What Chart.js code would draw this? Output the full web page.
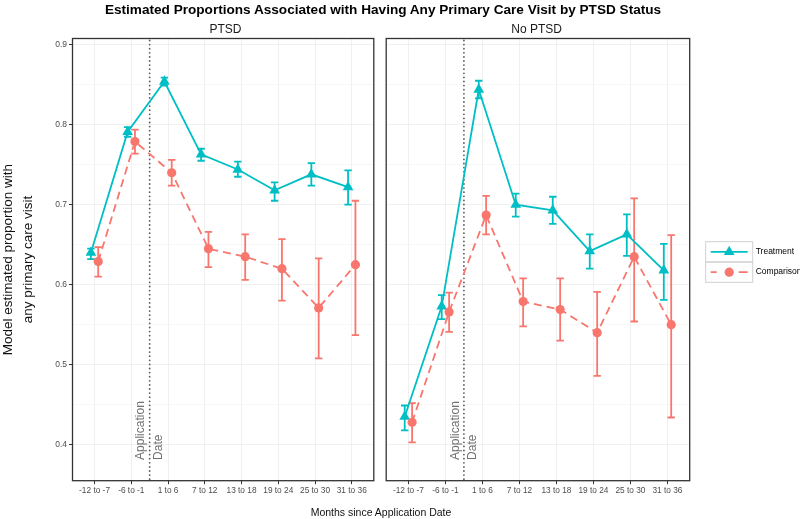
<!DOCTYPE html>
<html><head><meta charset="utf-8">
<script src="https://cdn.jsdelivr.net/npm/chart.js@4.4.0/dist/chart.umd.min.js"></script>
<style>
body{margin:0;background:#fff;width:800px;height:519px;position:relative;overflow:hidden;font-family:'Liberation Sans',Arial,sans-serif;}
.box{position:absolute;top:0;height:519px;}
.txt{position:absolute;white-space:nowrap;transform:translate(-50%,-50%);color:#000;font-weight:normal;}
</style></head><body>
<div class="box" style="left:0;width:380px"><canvas id="c1"></canvas></div>
<div class="box" style="left:380px;width:420px"><canvas id="c2"></canvas></div>
<div class="txt" style="left:383px;top:9px;font-weight:bold;font-size:13.6px;">Estimated Proportions Associated with Having Any Primary Care Visit by PTSD Status</div>
<div class="txt" style="left:225.5px;top:29px;font-size:12px;color:#1a1a1a;">PTSD</div>
<div class="txt" style="left:536.6px;top:29px;font-size:12px;color:#1a1a1a;">No PTSD</div>
<div class="txt" style="left:381px;top:512px;font-size:10.5px;color:#111;">Months since Application Date</div>
<script>
const categories = ['-12 to -7','-6 to -1','1 to 6','7 to 12','13 to 18','19 to 24','25 to 30','31 to 36'];
const yTickValues = [0.4,0.5,0.6,0.7,0.8,0.9];
const yMinorValues = [0.45,0.55,0.65,0.75,0.85];
const seriesNames = ['Treatment','Comparison'];
const panelNames = ['PTSD','No PTSD'];
const yTitleLines = ['Model estimated proportion with','any primary care visit'];

const ptsdTreatment   = [0.640,0.791,0.854,0.763,0.744,0.718,0.738,0.722];
const ptsdTreatmentLo = [0.632,0.785,0.849,0.755,0.735,0.705,0.724,0.700];
const ptsdTreatmentHi = [0.645,0.797,0.859,0.770,0.754,0.728,0.752,0.743];
const ptsdComparison   = [0.629,0.779,0.740,0.645,0.635,0.620,0.571,0.625];
const ptsdComparisonLo = [0.610,0.764,0.724,0.622,0.606,0.580,0.508,0.537];
const ptsdComparisonHi = [0.647,0.794,0.756,0.666,0.663,0.657,0.633,0.705];

const noPtsdTreatment   = [0.435,0.573,0.844,0.700,0.693,0.642,0.663,0.618];
const noPtsdTreatmentLo = [0.418,0.557,0.833,0.685,0.676,0.620,0.636,0.581];
const noPtsdTreatmentHi = [0.449,0.587,0.855,0.714,0.710,0.663,0.688,0.651];
const noPtsdComparison   = [0.428,0.566,0.687,0.579,0.569,0.540,0.635,0.550];
const noPtsdComparisonLo = [0.403,0.541,0.663,0.548,0.530,0.486,0.554,0.434];
const noPtsdComparisonHi = [0.452,0.590,0.711,0.608,0.608,0.591,0.708,0.662];

const applicationAt = 1.5; // between "-6 to -1" and "1 to 6"

const TEAL = '#00BFC4', SALMON = '#F8766D';
const FONT = "'Liberation Sans', Arial, sans-serif";
const DODGE = 0.1;

const panelPlugin = {
  id: 'panel',
  beforeDatasetsDraw(chart, args, opts) {
    const {ctx, chartArea: a, scales: {x, y}} = chart;
    ctx.save();
    const lx = x.getPixelForValue(applicationAt);
    ctx.strokeStyle = '#5a5a5a'; ctx.lineWidth = 1.8; ctx.lineCap = 'round';
    ctx.setLineDash([0, 4.1]);
    ctx.beginPath(); ctx.moveTo(lx, a.top + 2); ctx.lineTo(lx, a.bottom); ctx.stroke();
    ctx.setLineDash([]);
    ctx.fillStyle = '#707070'; ctx.font = '12px ' + FONT;
    ctx.textAlign = 'left'; ctx.textBaseline = 'middle';
    const by = y.getPixelForValue(0.381);
    [['Application', -8.7], ['Date', 8.7]].forEach(([t, dx]) => {
      ctx.save(); ctx.translate(lx + dx, by); ctx.rotate(-Math.PI / 2); ctx.fillText(t, 0, 0); ctx.restore();
    });
    opts.bars.forEach(b => {
      ctx.strokeStyle = b.color; ctx.lineWidth = 1.8; ctx.lineCap = 'butt';
      b.lo.forEach((lo, i) => {
        const xc = x.getPixelForValue(i + b.dx);
        const xl = x.getPixelForValue(i + b.dx - 0.1), xr = x.getPixelForValue(i + b.dx + 0.1);
        const yl = y.getPixelForValue(lo), yh = y.getPixelForValue(b.hi[i]);
        ctx.beginPath();
        ctx.moveTo(xc, yl); ctx.lineTo(xc, yh);
        ctx.moveTo(xl, yl); ctx.lineTo(xr, yl);
        ctx.moveTo(xl, yh); ctx.lineTo(xr, yh);
        ctx.stroke();
      });
    });
    ctx.restore();
  },
  afterDraw(chart, args, opts) {
    const {ctx, chartArea: a} = chart;
    ctx.save();
    ctx.strokeStyle = '#333333'; ctx.lineWidth = 1.3;
    ctx.strokeRect(a.left, a.top, a.right - a.left, a.bottom - a.top);
    ctx.restore();
    if (opts.yTitle) {
      ctx.save();
      ctx.fillStyle = '#111'; ctx.font = '13.5px ' + FONT;
      ctx.textAlign = 'center'; ctx.textBaseline = 'middle';
      const cy = (a.top + a.bottom) / 2;
      [[yTitleLines[0], 8.5], [yTitleLines[1], 28]].forEach(([t, xx]) => {
        ctx.save(); ctx.translate(xx, cy); ctx.rotate(-Math.PI / 2); ctx.fillText(t, 0, 0); ctx.restore();
      });
      ctx.restore();
    }
    if (opts.legend) {
      const L = opts.legend;
      ctx.save();
      ctx.strokeStyle = '#d0d0d0'; ctx.lineWidth = 1;
      ctx.strokeRect(L.x, L.y, L.w, L.h);
      ctx.strokeRect(L.x, L.y + L.h, L.w, L.h);
      const cx = L.x + L.w / 2;
      let ky = L.y + L.h / 2;
      ctx.strokeStyle = TEAL; ctx.lineWidth = 1.8;
      ctx.beginPath(); ctx.moveTo(L.x + 5, ky); ctx.lineTo(L.x + L.w - 5, ky); ctx.stroke();
      ctx.fillStyle = TEAL;
      const r = 6.2;
      ctx.beginPath();
      ctx.moveTo(cx, ky - r); ctx.lineTo(cx + r * 0.866, ky + r * 0.5); ctx.lineTo(cx - r * 0.866, ky + r * 0.5); ctx.closePath(); ctx.fill();
      ky = L.y + L.h * 1.5;
      ctx.strokeStyle = SALMON;
      ctx.beginPath();
      ctx.moveTo(L.x + 5, ky); ctx.lineTo(L.x + 11, ky);
      ctx.moveTo(L.x + L.w - 14, ky); ctx.lineTo(L.x + L.w - 5, ky);
      ctx.stroke();
      ctx.fillStyle = SALMON;
      ctx.beginPath(); ctx.arc(cx, ky, 4.6, 0, Math.PI * 2); ctx.fill();
      ctx.fillStyle = '#000'; ctx.font = '8.5px ' + FONT; ctx.textAlign = 'left'; ctx.textBaseline = 'middle';
      ctx.fillText(seriesNames[0], L.x + L.w + 3, L.y + L.h / 2);
      ctx.fillText(seriesNames[1], L.x + L.w + 3, L.y + L.h * 1.5);
      ctx.restore();
    }
  }
};

function makeChart(id, treat, comp, tLo, tHi, cLo, cHi, isFirst) {
  const mk = (vals, dx) => vals.map((v, i) => ({x: i + dx, y: v}));
  return new Chart(document.getElementById(id), {
    type: 'line',
    data: {
      datasets: [
        {label: seriesNames[1], data: mk(comp, DODGE), borderColor: SALMON, backgroundColor: SALMON,
         borderWidth: 1.8, borderDash: [8, 5], pointStyle: 'circle', pointRadius: 4.6, pointBorderWidth: 0, tension: 0},
        {label: seriesNames[0], data: mk(treat, -DODGE), borderColor: TEAL, backgroundColor: TEAL,
         borderWidth: 1.8, pointStyle: 'triangle', pointRadius: 6.2, pointBorderWidth: 0, tension: 0}
      ]
    },
    options: {
      animation: false, responsive: true, maintainAspectRatio: false, events: [],
      layout: {padding: isFirst ? {top: 38.5, right: 1.5, left: 0, bottom: 18.3} : {top: 38.5, right: 110.3, left: 0, bottom: 18.3}},
      plugins: {
        legend: {display: false}, tooltip: {enabled: false},
        panel: {
          bars: [{lo: cLo, hi: cHi, dx: DODGE, color: SALMON}, {lo: tLo, hi: tHi, dx: -DODGE, color: TEAL}],
          legend: isFirst ? null : {x: 325.7, y: 241.7, w: 47, h: 20.3},
          yTitle: isFirst
        }
      },
      scales: {
        x: {
          type: 'linear', min: -0.6, max: 7.6,
          afterBuildTicks: s => { s.ticks = categories.map((c, i) => ({value: i})); },
          afterFit: s => { s.height = 20; },
          border: {display: false},
          grid: {color: '#ececec', lineWidth: 0.8, drawTicks: true, tickLength: 3.5, tickColor: '#333333', tickWidth: 1},
          ticks: {autoSkip: false, maxRotation: 0, padding: 2, color: '#4d4d4d', font: {size: 8.3, family: FONT},
                  callback: v => categories[v]}
        },
        y: {
          type: 'linear', min: 0.355, max: 0.9078,
          afterBuildTicks: s => { s.ticks = [...yTickValues, ...yMinorValues].sort((a, b) => a - b).map(v => ({value: v})); },
          afterFit: s => { s.width = isFirst ? 72.5 : 3.5; },
          border: {display: false},
          grid: {
            color: c => (yMinorValues.some(m => Math.abs(m - c.tick.value) < 1e-6) ? '#f5f5f5' : '#ececec'),
            lineWidth: 0.8, drawTicks: isFirst, tickLength: 3.5, tickWidth: 1,
            tickColor: c => (yMinorValues.some(m => Math.abs(m - c.tick.value) < 1e-6) ? 'rgba(0,0,0,0)' : '#333333')
          },
          ticks: {display: isFirst, autoSkip: false, padding: 2, color: '#4d4d4d', font: {size: 8.5, family: FONT},
                  callback: v => (yTickValues.some(m => Math.abs(m - v) < 1e-6) ? v.toFixed(1) : '')}
        }
      }
    },
    plugins: [panelPlugin]
  });
}

makeChart('c1', ptsdTreatment, ptsdComparison, ptsdTreatmentLo, ptsdTreatmentHi, ptsdComparisonLo, ptsdComparisonHi, true);
makeChart('c2', noPtsdTreatment, noPtsdComparison, noPtsdTreatmentLo, noPtsdTreatmentHi, noPtsdComparisonLo, noPtsdComparisonHi, false);
</script>
</body></html>
